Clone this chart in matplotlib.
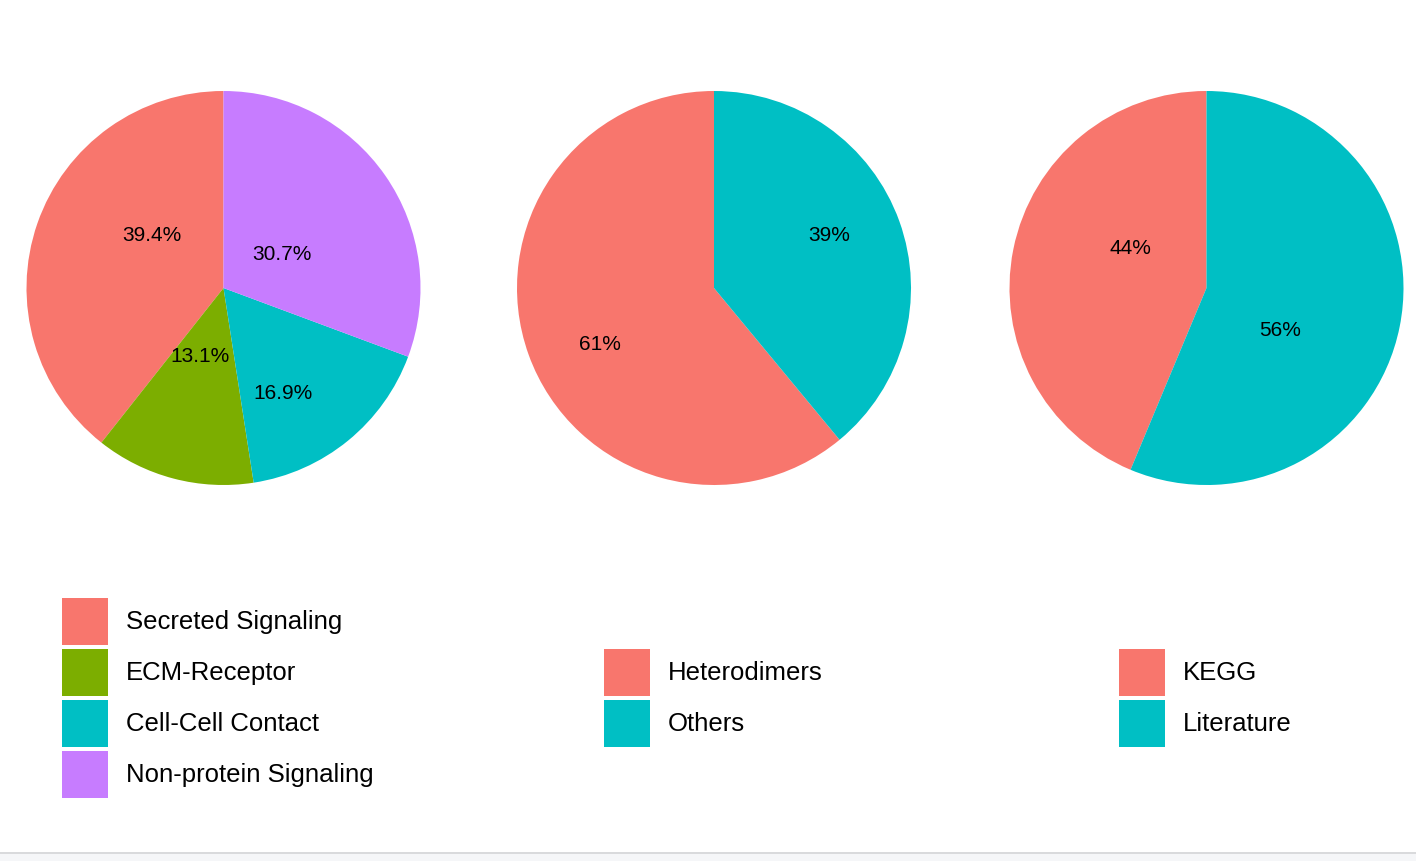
import numpy as np
import matplotlib.pyplot as plt
from matplotlib.patches import Patch, Rectangle

plt.rcParams['font.family'] = ['Liberation Sans', 'DejaVu Sans']

# pathway categories
pathway_names = ["Secreted Signaling", "ECM-Receptor", "Cell-Cell Contact", "Non-protein Signaling"]
pathway_values = [39.4, 13.1, 16.9, 30.7]
pathway_labels = ["39.4%", "13.1%", "16.9%", "30.7%"]

# complex type
complex_names = ["Heterodimers", "Others"]
complex_values = [61, 39]
complex_labels = ["61%", "39%"]

# evidence source
source_names = ["KEGG", "Literature"]
source_values = [43.7, 56.3]
source_labels = ["44%", "56%"]

hue4 = ["#F8766D", "#7CAE00", "#00BFC4", "#C77CFF"]
hue2 = ["#F8766D", "#00BFC4"]

W, H = 1416, 861
fig = plt.figure(figsize=(W / 100, H / 100), dpi=100)

pies = [
    (pathway_names, pathway_values, pathway_labels, hue4),
    (complex_names, complex_values, complex_labels, hue2),
    (source_names, source_values, source_labels, hue2),
]
# pie centres (px) and label placement tweaks (radius fraction, clockwise nudge in deg)
centres = [223.5, 714, 1206.5]
radius_px = 197
cy = 288
label_r = [[0.451, 0.369, 0.614, 0.339], [0.645, 0.643], [0.433, 0.431]]
label_nudge = [[17, 3.8, 9.7, 5.1], [-6.4, -4.9], [16.2, 18.8]]

for i, (names, vals, labs, cols) in enumerate(pies):
    cx = centres[i]
    ax = fig.add_axes([(cx - radius_px) / W, (H - cy - radius_px) / H,
                       2 * radius_px / W, 2 * radius_px / H])
    ax.pie(vals, colors=cols, startangle=90, counterclock=True, radius=1,
           wedgeprops=dict(linewidth=0))
    total = sum(vals)
    cum = 0
    for j, v in enumerate(vals):
        mid = 90 + 360 * (cum + v / 2) / total  # math angle, ccw
        cum += v
        ang = np.deg2rad(mid - label_nudge[i][j])
        r = label_r[i][j]
        ax.text(r * np.cos(ang), r * np.sin(ang), labs[j], ha='center', va='center',
                fontsize=15, color='black')
    ax.set_xlim(-1, 1)
    ax.set_ylim(-1, 1)
    ax.set_aspect('equal')
    ax.axis('off')

legend_x = [62, 604, 1119]
fs = 18.5
fs_px = fs * 100 / 72
# legend handle height in px = fs_px * (0.65 * hh + 0.245)
hh = (47 / fs_px - 0.245) / 0.65
for i, (names, vals, labs, cols) in enumerate(pies):
    handles = [Patch(facecolor=c, edgecolor='none') for c in cols]
    fig.legend(handles, names, loc='center left',
               bbox_to_anchor=(legend_x[i] / W, (H - 698) / H),
               frameon=False, fontsize=fs, borderpad=0, borderaxespad=0,
               handlelength=46 / fs_px, handleheight=hh,
               labelspacing=4 / fs_px, handletextpad=18 / fs_px)

# screenshot bottom strip
fig.patches.append(Rectangle((0, 0), 1, 7 / H, transform=fig.transFigure,
                             facecolor='#F5F6F8', edgecolor='none'))
fig.patches.append(Rectangle((0, 7 / H), 1, 2 / H, transform=fig.transFigure,
                             facecolor='#D9DADC', edgecolor='none'))

fig.savefig("out.png", dpi=100)
